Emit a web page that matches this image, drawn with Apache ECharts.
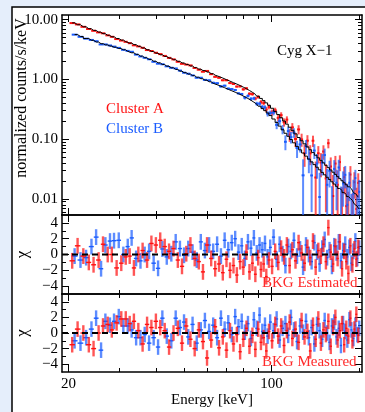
<!DOCTYPE html>
<html><head><meta charset="utf-8">
<script src="https://cdn.jsdelivr.net/npm/echarts@6/dist/echarts.min.js"></script>
<style>html,body{margin:0;padding:0;background:#e5eefb}#c{width:365px;height:412px}</style>
</head><body><div id="c"></div>
<script>
// ---------------- data ----------------
const energyA = [20.6,21.5,22.5,23.5,24.4,25.4,26.3,27.3,28.2,29.3,30.4,31.5,32.5,33.6,34.8,36.0,37.3,38.6,40.0,41.4,42.9,44.4,46.0,47.6,49.2,50.9,52.6,54.4,56.2,58.1,60,62,64,66,68,70,72,74,76,78,80,82,84,86,88,90,92,94,96,98,100.5,103,105.5,108,110.5,113,115.5,118,121,124,127,130,133,136,139,142,145,148,151,154,157,160,163,166,169,172,175,178,181,184,187,190,193,196,199];
const energyB = [21.0,22.0,23.0,24.0,24.9,25.9,26.8,27.8,28.7,29.8,30.9,32.0,33.0,34.2,35.4,36.6,37.9,39.3,40.7,42.1,43.6,45.2,46.8,48.4,50.0,51.7,53.5,55.3,57.1,59.0,61,63,65,67,69,71,73,75,77,79,81,83,85,87,89,91,93,95,97,99,101.7,104.2,106.7,109.2,111.7,114.2,116.7,119.5,122.5,125.5,128.5,131.5,134.5,137.5,140.5,143.5,146.5,149.5,152.5,155.5,158.5,161.5,164.5,167.5,170.5,173.5,176.5,179.5,182.5,185.5,188.5,191.5,194.5,197.5,200.5];
const modelA = [8.87,8.24,7.63,7.08,6.63,6.19,5.84,5.48,5.18,4.85,4.56,4.29,4.06,3.83,3.58,3.36,3.14,2.94,2.75,2.59,2.43,2.28,2.14,2.01,1.89,1.78,1.68,1.58,1.49,1.41,1.33,1.25,1.18,1.12,1.057,0.993,0.937,0.885,0.838,0.791,0.745,0.700,0.655,0.610,0.566,0.524,0.482,0.443,0.406,0.370,0.330,0.292,0.259,0.229,0.202,0.179,0.159,0.141,0.123,0.107,0.0944,0.0838,0.0745,0.0667,0.0598,0.0540,0.0489,0.0443,0.0403,0.0366,0.0335,0.0306,0.0281,0.0258,0.0237,0.0219,0.0202,0.0187,0.0173,0.0160,0.0149,0.0138,0.0128,0.0120,0.0111];
const modelB = [5.65,5.24,4.85,4.52,4.23,3.97,3.79,3.62,3.46,3.29,3.14,2.96,2.80,2.63,2.46,2.31,2.16,2.02,1.90,1.78,1.67,1.57,1.47,1.38,1.30,1.23,1.16,1.09,1.03,0.973,0.916,0.863,0.817,0.773,0.728,0.685,0.647,0.612,0.578,0.545,0.513,0.481,0.449,0.417,0.387,0.357,0.328,0.301,0.275,0.249,0.218,0.190,0.166,0.144,0.126,0.112,0.099,0.0871,0.0759,0.0665,0.0588,0.0522,0.0466,0.0417,0.0376,0.0340,0.0308,0.0279,0.0254,0.0231,0.0212,0.0194,0.0178,0.0163,0.0150,0.0139,0.0128,0.0119,0.0110,0.0102,0.0095,0.0088,0.0082,0.0076,0.0070];
const dataA = [8.79,8.35,7.61,7.00,6.53,6.14,5.93,5.48,5.18,4.75,4.48,4.27,4.05,3.73,3.58,3.39,3.11,3.00,2.80,2.66,2.48,2.30,2.17,1.98,1.83,1.78,1.72,1.56,1.46,1.35,1.39,1.23,1.11,1.07,0.972,0.972,0.871,0.842,0.762,0.766,0.685,0.711,0.576,0.570,0.481,0.510,0.418,0.403,0.315,0.348,0.281,0.305,0.228,0.253,0.193,0.213,0.119,0.158,0.101,0.146,0.0993,0.058,0.0946,0.0582,0.0944,0.0229,0.0582,0.0408,0.0623,0.0221,0.0859,0.0350,0.0112,0.0392,0.0173,0.0415,0.004,0.0232,0.0076,0.003,0.0257,0.003,0.0191,0.0068,0.0186];
const dataB = [5.63,5.18,4.82,4.59,4.37,3.86,3.86,3.71,3.55,3.38,3.14,3.01,2.91,2.61,2.43,2.31,2.18,1.98,1.84,1.80,1.66,1.57,1.53,1.41,1.30,1.25,1.17,1.07,1.07,0.985,0.965,0.879,0.865,0.766,0.787,0.703,0.691,0.667,0.586,0.572,0.496,0.531,0.474,0.483,0.393,0.393,0.346,0.341,0.267,0.274,0.280,0.174,0.201,0.147,0.0907,0.137,0.1085,0.129,0.0713,0.0819,0.0249,0.0766,0.0466,0.0248,0.0647,0.0392,0.0108,0.0406,0.0544,0.0173,0.0296,0.003,0.0319,0.0187,0.0337,0.0049,0.0182,0.0254,0.0080,0.0187,0.003,0.0123,0.0224,0.0036,0.0132];
const relErrA = [0.012,0.012,0.012,0.012,0.012,0.012,0.012,0.012,0.012,0.012,0.015,0.015,0.015,0.015,0.015,0.015,0.015,0.015,0.015,0.015,0.02,0.02,0.02,0.02,0.02,0.02,0.02,0.02,0.02,0.02,0.035,0.035,0.035,0.035,0.035,0.035,0.035,0.035,0.035,0.035,0.05,0.05,0.055,0.06,0.06,0.065,0.07,0.075,0.08,0.085,0.10,0.11,0.12,0.13,0.15,0.16,0.18,0.20,0.22,0.24,0.26,0.28,0.30,0.32,0.34,0.36,0.38,0.40,0.42,0.44,0.46,0.48,0.50,0.52,0.54,0.56,0.58,0.60,0.62,0.64,0.66,0.68,0.70,0.72,0.75];
const relErrB = [0.015,0.015,0.015,0.015,0.015,0.015,0.015,0.015,0.015,0.015,0.018,0.018,0.018,0.018,0.018,0.018,0.018,0.018,0.018,0.018,0.025,0.025,0.025,0.025,0.025,0.025,0.025,0.025,0.025,0.025,0.045,0.045,0.045,0.045,0.045,0.045,0.045,0.045,0.045,0.045,0.065,0.065,0.07,0.075,0.08,0.085,0.09,0.095,0.10,0.11,0.13,0.14,0.16,0.18,0.20,0.22,0.24,0.27,0.30,0.33,0.36,0.39,0.42,0.45,0.48,0.51,0.54,0.57,0.60,0.63,0.66,0.69,0.72,0.75,0.78,0.81,0.84,0.87,0.90,0.93,0.96,0.99,1.02,1.05,1.1];
const chiEstA = [-0.8,1.1,-0.2,-1.0,-1.3,-0.7,1.3,0.0,0.0,-1.7,-1.1,-0.3,-0.2,-1.7,0.0,0.5,-0.7,1.4,1.2,1.8,1.0,0.4,0.75,-0.7,-1.5,0.1,1.2,-0.5,-0.9,-2.2,1.2,-0.5,-1.8,-1.2,-2.3,-0.6,-2.0,-1.4,-2.6,-0.9,-1.6,0.3,-2.2,-1.1,-2.5,-0.4,-1.9,-1.2,-2.8,-0.7,-1.5,0.4,-1.0,0.8,-0.3,1.2,-1.4,0.6,-0.8,1.5,0.2,-1.1,0.9,-0.4,1.7,-1.6,0.5,-0.2,1.3,-0.9,3.4,0.3,-1.2,1.0,-0.5,1.6,-1.8,0.4,-0.9,-2.4,1.1,-1.3,0.7,-0.6,0.9];
const chiEstB = [-0.2,-0.7,-0.4,1.0,2.2,-1.8,1.2,1.7,1.75,1.8,0.0,1.0,2.1,-0.5,-0.8,0.0,0.4,-1.1,-1.75,0.7,-0.3,0.1,1.6,0.75,-0.1,0.75,0.3,-0.7,1.6,0.5,1.2,0.4,1.3,-0.2,1.8,0.6,1.5,2.0,0.3,1.1,-0.5,1.6,0.8,2.1,0.2,1.2,0.6,1.4,-0.3,0.9,2.2,-0.6,1.3,0.1,-1.4,1.0,0.4,1.8,-0.2,0.7,-1.6,1.2,0.0,-0.9,1.5,0.3,-1.2,0.8,1.9,-0.4,0.6,-1.5,1.1,0.2,1.6,-0.8,0.5,1.3,-0.3,0.9,-1.1,0.4,1.7,-0.5,0.8];
const chiMeasA = [-1.5,0.5,0.0,-1.5,-2.0,0.0,0.9,1.1,0.4,1.3,1.8,1.8,1.2,1.5,0.3,-1.4,1.1,0.7,1.5,0.7,0.3,-1.8,0.0,0.6,-1.3,0.9,-0.8,-2.0,0.4,-1.1,-3.2,-0.9,0.8,-1.9,-0.5,-2.2,0.3,-1.4,-0.2,-2.4,-0.8,0.6,-1.7,-0.3,-2.1,0.5,-1.2,-0.6,-2.3,0.2,-1.0,1.1,-0.4,0.9,-1.6,0.3,1.4,-0.7,0.5,-1.2,1.6,-0.5,0.2,-2.3,1.0,-0.8,1.8,-1.3,0.4,-0.2,1.5,-1.7,0.7,2.0,-0.9,0.3,1.2,-1.5,0.6,-0.4,1.9,-1.0,0.5,2.4,-0.3];
const chiMeasB = [-1.0,-1.3,-0.6,0.5,1.9,-2.2,1.5,1.0,1.5,2.1,0.9,0.9,0.4,-0.6,-0.6,-0.2,-1.3,-0.6,-1.8,1.9,-0.4,-1.0,1.9,0.7,1.4,-0.5,1.1,-1.3,0.4,1.6,0.2,1.0,-0.6,1.9,0.5,1.3,-0.2,2.1,0.8,1.5,0.1,1.2,-0.7,1.7,0.6,2.3,0.2,1.0,-0.4,1.4,0.3,1.8,-0.9,0.6,1.2,-0.3,2.0,0.4,-1.1,0.9,0.1,1.5,-0.6,0.7,-1.4,1.1,0.3,-0.8,1.6,0.0,-1.2,0.9,1.4,-0.5,0.6,-1.6,1.2,0.2,-0.9,1.7,0.4,-0.7,1.0,-0.2,0.6];

const xMajorTicks = [20, 100];
const xTickLabels = ['20', '100'];
const xMinorTicks = [30, 40, 50, 60, 70, 80, 90, 200];
const yMajorTicks = [0.01, 0.1, 1, 10];
const yTickLabels = ['0.01', '0.10', '1.00', '10.00'];
const yMinorTicks = [0.006,0.007,0.008,0.009,0.02,0.03,0.04,0.05,0.06,0.07,0.08,0.09,0.2,0.3,0.4,0.5,0.6,0.7,0.8,0.9,2,3,4,5,6,7,8,9];
const chiMajorTicks = [-4, -2, 0, 2, 4];
const chiTickLabels = ['\u22124', '\u22122', '0', '2', '4'];
const chiMinorTicks = [-3, -1, 1, 3];

// ---------------- layout / style ----------------
const X_MIN = 19, X_MAX = 205, Y_MIN = 0.0054, Y_MAX = 12, C_MIN = -5, C_MAX = 5;
const FONT = 'Liberation Serif';
const RED = '#ff1010', BLUE = '#1a5cff';
const grids = [
  {left: 62, right: 3, top: 15, height: 200},
  {left: 62, right: 3, top: 215, height: 79},
  {left: 62, right: 3, top: 294, height: 78}
].map(g => Object.assign({outerBoundsMode: 'none', containLabel: false}, g));

function lookup(vals, labels, v) {
  let best = 0;
  for (let i = 1; i < vals.length; i++) if (Math.abs(vals[i] - v) < Math.abs(vals[best] - v)) best = i;
  return labels[best];
}
const lineStyle = {color: '#000', width: 1.5};
function makeAxes(kind, gi, opts) {
  const isX = kind === 'x';
  const base = isX
    ? {type: 'log', logBase: 10, min: X_MIN, max: X_MAX}
    : (opts.log ? {type: 'log', logBase: 10, min: Y_MIN, max: Y_MAX} : {type: 'value', min: C_MIN, max: C_MAX});
  const major = isX ? xMajorTicks : (opts.log ? yMajorTicks : chiMajorTicks);
  const minor = isX ? xMinorTicks : (opts.log ? yMinorTicks : chiMinorTicks);
  const labels = isX ? xTickLabels : (opts.log ? yTickLabels : chiTickLabels);
  const pos = isX ? ['bottom', 'top'] : ['left', 'right'];
  const out = [];
  pos.forEach((p, pi) => {
    const common = Object.assign({gridIndex: gi, position: p, splitLine: {show: false}, silent: true}, base);
    out.push(Object.assign({}, common, {
      axisLine: {show: true, onZero: false, lineStyle},
      axisTick: {show: true, inside: true, length: 7, customValues: major, lineStyle: {color: '#000', width: 1}},
      axisLabel: {
        show: pi === 0 && opts.labels, customValues: major, margin: isX ? 5 : 4,
        fontFamily: FONT, fontSize: 15, color: '#000',
        formatter: v => lookup(major, labels, v)
      },
      name: pi === 0 ? (opts.name || '') : '',
      nameLocation: 'middle', nameGap: opts.nameGap || 20,
      nameTextStyle: {fontFamily: FONT, fontSize: opts.nameSize || 15, color: '#000'}
    }));
    out.push(Object.assign({}, common, {
      axisLine: {show: false, onZero: false},
      axisTick: {show: true, inside: true, length: 4, customValues: minor, lineStyle: {color: '#000', width: 1}},
      axisLabel: {show: false}
    }));
  });
  return out;
}

const xAxis = [].concat(
  makeAxes('x', 0, {labels: false}),
  makeAxes('x', 1, {labels: false}),
  makeAxes('x', 2, {labels: true, name: 'Energy [keV]', nameGap: 14})
);
const yAxis = [].concat(
  makeAxes('y', 0, {log: true, labels: true}),
  makeAxes('y', 1, {labels: true, name: '\u03c7', nameGap: 31, nameSize: 17}),
  makeAxes('y', 2, {labels: true, name: '\u03c7', nameGap: 31, nameSize: 17})
);

function binEdges(e) {
  return e.map((v, i) => {
    const lo = i > 0 ? Math.sqrt(e[i - 1] * v) : v * Math.sqrt(v / e[1]);
    const hi = i < e.length - 1 ? Math.sqrt(e[i + 1] * v) : v * Math.sqrt(v / e[i - 1]);
    return [lo, hi];
  });
}
const edgesA = binEdges(energyA), edgesB = binEdges(energyB);

function spectrumData(en, vals, model, rel, edges) {
  return en.map((e, i) => [e, vals[i], model[i] * rel[i], edges[i][0], edges[i][1]]);
}
function chiData(en, chi, edges) {
  return en.map((e, i) => [e, chi[i], 1, edges[i][0], edges[i][1]]);
}

function makeRender(yLo, yHi, color, barColor, hWidth, vWidth) {
  return function (params, api) {
    const e = api.value(0), v = api.value(1), err = api.value(2), lo = api.value(3), hi = api.value(4);
    const children = [];
    const top = Math.min(v + err, yHi);
    const bot = Math.max(v - err, yLo);
    if (top > yLo) {
      const pT = api.coord([e, top]);
      const pB = api.coord([e, Math.max(bot, yLo)]);
      children.push({type: 'line', shape: {x1: pT[0], y1: pT[1], x2: pB[0], y2: pB[1]},
        style: {stroke: barColor, lineWidth: vWidth}});
    }
    if (v >= yLo && v <= yHi) {
      const pL = api.coord([lo, v]);
      const pR = api.coord([hi, v]);
      children.push({type: 'line', shape: {x1: pL[0], y1: pL[1], x2: pR[0], y2: pR[1]},
        style: {stroke: color, lineWidth: hWidth}});
    }
    return {type: 'group', children};
  };
}

function customSeries(gi, data, render, z) {
  return {type: 'custom', xAxisIndex: gi * 4, yAxisIndex: gi * 4, data, renderItem: render,
    encode: {x: 0, y: 1}, clip: true, z, silent: true};
}
function stepSeries(en, model) {
  return {type: 'line', xAxisIndex: 0, yAxisIndex: 0, step: 'middle', showSymbol: false, symbol: 'none',
    data: en.map((e, i) => [e, model[i]]), lineStyle: {color: '#000', width: 1}, z: 6, silent: true};
}
function zeroLine(gi) {
  return {type: 'line', xAxisIndex: gi * 4, yAxisIndex: gi * 4, data: [[X_MIN, 0], [X_MAX, 0]], symbol: 'none',
    lineStyle: {color: '#000', width: 2, type: [6, 4]}, z: 8, silent: true};
}

const redBar = 'rgba(255,20,20,0.72)', blueBar = 'rgba(30,95,255,0.72)';
const series = [
  customSeries(0, spectrumData(energyA, dataA, modelA, relErrA, edgesA), makeRender(Y_MIN, Y_MAX, RED, redBar, 2, 2), 3),
  customSeries(0, spectrumData(energyB, dataB, modelB, relErrB, edgesB), makeRender(Y_MIN, Y_MAX, BLUE, blueBar, 2, 2), 4),
  stepSeries(energyA, modelA),
  stepSeries(energyB, modelB),
  customSeries(1, chiData(energyB, chiEstB, edgesB), makeRender(C_MIN, C_MAX, BLUE, blueBar, 1.4, 2.4), 3),
  customSeries(1, chiData(energyA, chiEstA, edgesA), makeRender(C_MIN, C_MAX, RED, redBar, 1.4, 2.4), 4),
  zeroLine(1),
  customSeries(2, chiData(energyB, chiMeasB, edgesB), makeRender(C_MIN, C_MAX, BLUE, blueBar, 1.4, 2.4), 3),
  customSeries(2, chiData(energyA, chiMeasA, edgesA), makeRender(C_MIN, C_MAX, RED, redBar, 1.4, 2.4), 4),
  zeroLine(2)
];

function txt(x, y, text, color, size, extra) {
  return Object.assign({type: 'text', x, y, z: 50, silent: true,
    style: {text, fill: color, font: size + 'px "' + FONT + '"', align: 'left', verticalAlign: 'middle'}}, extra || {});
}
const graphic = [
  {type: 'rect', z: -10, silent: true, shape: {x: 12, y: 7, width: 400, height: 420},
    style: {fill: '#ffffff', stroke: '#000', lineWidth: 1.5}},
  {type: 'text', x: 22, y: 98, rotation: Math.PI / 2, z: 50, silent: true,
    style: {text: 'normalized counts/s/keV', fill: '#000', font: '16px "' + FONT + '"', align: 'center', verticalAlign: 'middle'}},
  txt(277, 51, 'Cyg X\u22121', '#000', 15),
  txt(106, 109, 'Cluster A', RED, 15),
  txt(106, 129, 'Cluster B', BLUE, 15),
  txt(262, 283, 'BKG Estimated', '#ff2a2a', 15),
  txt(262, 362, 'BKG Measured', '#ff2a2a', 15)
];

const chart = echarts.init(document.getElementById('c'), null, {renderer: 'canvas'});
chart.setOption({
  animation: false,
  backgroundColor: '#e5eefb',
  grid: grids,
  xAxis, yAxis, series, graphic
});
</script></body></html>
